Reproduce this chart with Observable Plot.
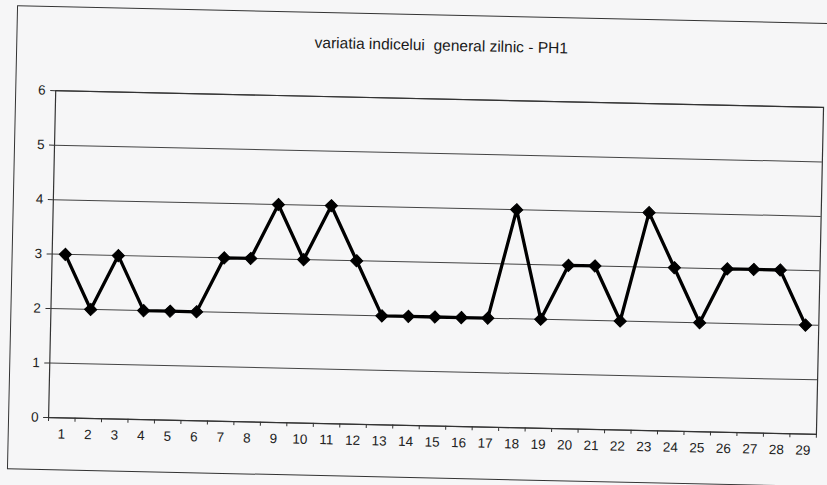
<!DOCTYPE html>
<html><head><meta charset="utf-8">
<script src="https://cdn.jsdelivr.net/npm/d3@7"></script>
<script src="https://cdn.jsdelivr.net/npm/@observablehq/plot@0.6"></script>
<style>
html,body{margin:0;padding:0;background:#f6f6f7;overflow:hidden;}
#wrap{position:relative;width:827px;height:485px;transform:rotate(1.25deg);transform-origin:413px 242px;}
#border{position:absolute;left:12px;top:14px;width:840px;height:464px;border:1.5px solid #333;box-sizing:border-box;}
#title{position:absolute;left:0;width:874px;top:36px;text-align:center;font:15.5px "Liberation Sans",Arial,sans-serif;color:#1a1a1a;}
#chart{position:absolute;left:0;top:0;}
</style>
</head><body>
<div id="wrap"><div id="border"></div><div id="chart"></div><div id="title">variatia indicelui&nbsp; general zilnic - PH1</div></div>
<script>
const days = [1,2,3,4,5,6,7,8,9,10,11,12,13,14,15,16,17,18,19,20,21,22,23,24,25,26,27,28,29];
const values = [3,2,3,2,2,2,3,3,4,3,4,3,2,2,2,2,2,4,2,3,3,2,4,3,2,3,3,3,2];
const yTicks = [0,1,2,3,4,5,6];

const data = days.map((d, i) => ({day: d, value: values[i]}));
const boundaries = days.map(d => d - 0.5).concat([days[days.length - 1] + 0.5]);

const chart = Plot.plot({
  width: 827,
  height: 485,
  marginLeft: 52,
  marginRight: 7,
  marginTop: 98,
  marginBottom: 60,
  style: {fontFamily: "'Liberation Sans', Arial, sans-serif", fontSize: "13.5px", background: "transparent", color: "#222"},
  x: {domain: [boundaries[0], boundaries[boundaries.length - 1]]},
  y: {domain: [0, 6]},
  marks: [
    Plot.gridY(yTicks, {stroke: "#444", strokeOpacity: 1, strokeWidth: 1}),
    Plot.frame({stroke: "#333", strokeWidth: 1.2}),
    Plot.axisY(yTicks, {tickSize: 5, tickPadding: 5, label: null, stroke: "#333", fontSize: 13.5, tickFormat: d3.format("d")}),
    Plot.axisX(boundaries, {tickSize: 4, tickFormat: () => "", label: null, stroke: "#333"}),
    Plot.axisX(days, {tickSize: 0, tickPadding: 11, label: null, fontSize: 13.5, tickFormat: d3.format("d")}),
    Plot.line(data, {x: "day", y: "value", stroke: "#000", strokeWidth: 3.3}),
    Plot.dot(data, {x: "day", y: "value", symbol: "diamond2", r: 5.5, fill: "#000", stroke: "#000", strokeWidth: 1})
  ]
});
document.getElementById("chart").appendChild(chart);
</script>
</body></html>
